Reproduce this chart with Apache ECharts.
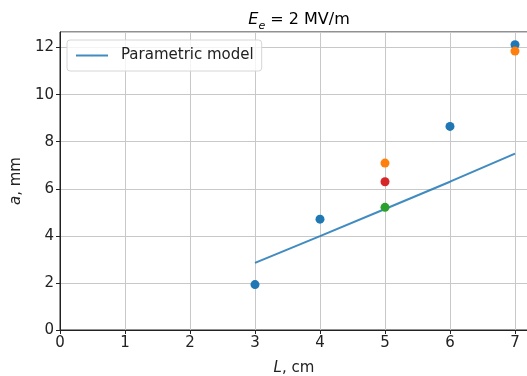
<!DOCTYPE html>
<html>
<head>
<meta charset="utf-8">
<script src="https://cdn.jsdelivr.net/npm/echarts@6/dist/echarts.min.js"></script>
<style>
  html, body { margin: 0; padding: 0; background: #fff; }
  #chart { width: 527px; height: 376px; }
</style>
</head>
<body>
<div id="chart"></div>
<script>
// model curve
const modelL = [3, 4, 5, 6, 7];
const modelA = [2.85, 3.99, 5.14, 6.30, 7.49];

// measured points, one array per colour
const blueL = [3, 4, 6, 7];
const blueA = [1.93, 4.71, 8.65, 12.12];
const orangeL = [5, 7];
const orangeA = [7.09, 11.85];
const redL = [5];
const redA = [6.30];
const greenL = [5];
const greenA = [5.21];

const zip = (xs, ys) => xs.map((x, i) => [x, ys[i]]);

const font = 'DejaVu Sans';
let chart = echarts.init(document.getElementById('chart'));

function dots(name, xs, ys, color) {
    return {
        name: name,
        type: 'scatter',
        data: zip(xs, ys),
        symbolSize: 9,
        itemStyle: {color: color, opacity: 1},
        z: 3
    };
}

let option = {
    animation: false,
    textStyle: {fontFamily: font},
    title: {
        text: '{i|E}{s|e}{n| = 2 MV/m}',
        left: 294,
        textAlign: 'center',
        top: 3,
        textStyle: {
            fontWeight: 'normal',
            rich: {
                i: {fontFamily: font, fontSize: 16, fontStyle: 'italic', fontWeight: 'normal', color: '#000', verticalAlign: 'bottom', lineHeight: 20},
                s: {fontFamily: font, fontSize: 11, fontStyle: 'italic', fontWeight: 'normal', color: '#000', verticalAlign: 'bottom', lineHeight: 14, padding: [0, 0, -4, 0]},
                n: {fontFamily: font, fontSize: 16, fontWeight: 'normal', color: '#000', verticalAlign: 'bottom', lineHeight: 20}
            }
        }
    },
    legend: {
        data: ['Parametric model'],
        left: 67,
        top: 40,
        orient: 'vertical',
        padding: [8, 8, 8, 8],
        itemWidth: 32,
        itemHeight: 2,
        itemGap: 0,
        backgroundColor: 'rgba(255,255,255,0.8)',
        borderColor: '#d6d6d6',
        borderWidth: 1,
        borderRadius: 3,
        textStyle: {fontFamily: font, fontSize: 15, color: '#222', padding: [0, 0, 0, 8]}
    },
    grid: {
        left: 60,
        right: -1,
        top: 32,
        bottom: 46,
        outerBoundsMode: 'none',
        show: true,
        borderColor: '#222',
        borderWidth: 1
    },
    xAxis: {
        type: 'value',
        min: 0,
        max: 7.2,
        interval: 1,
        name: '{i|L}{n|, cm}',
        nameLocation: 'middle',
        nameGap: 31,
        nameTextStyle: {
            rich: {
                i: {fontFamily: font, fontSize: 15, fontStyle: 'italic', color: '#222'},
                n: {fontFamily: font, fontSize: 15, color: '#222'}
            }
        },
        axisLine: {lineStyle: {color: '#222'}},
        axisTick: {show: true, length: 4, lineStyle: {color: '#222'}},
        axisLabel: {showMaxLabel: false, fontSize: 15, color: '#222', margin: 6},
        splitLine: {show: true, lineStyle: {color: '#c8c8c8', width: 1}}
    },
    yAxis: {
        type: 'value',
        min: 0,
        max: 12.66,
        interval: 2,
        name: '{i|a}{n|, mm}',
        nameLocation: 'middle',
        nameGap: 35,
        nameTextStyle: {
            rich: {
                i: {fontFamily: font, fontSize: 15, fontStyle: 'italic', color: '#222'},
                n: {fontFamily: font, fontSize: 15, color: '#222'}
            }
        },
        axisLine: {show: true, lineStyle: {color: '#222'}},
        axisTick: {show: true, length: 4, lineStyle: {color: '#222'}},
        axisLabel: {showMaxLabel: false, fontSize: 15, color: '#222', margin: 6},
        splitLine: {show: true, lineStyle: {color: '#c8c8c8', width: 1}}
    },
    series: [
        {
            name: 'Parametric model',
            type: 'line',
            data: zip(modelL, modelA),
            showSymbol: false,
            symbol: 'none',
            lineStyle: {color: '#1f77b4', width: 2, opacity: 0.85},
            itemStyle: {color: '#4a90c6'},
            z: 2
        },
        dots('blue', blueL, blueA, '#1f77b4'),
        dots('orange', orangeL, orangeA, '#ff7f0e'),
        dots('red', redL, redA, '#d62728'),
        dots('green', greenL, greenA, '#2ca02c')
    ]
};

chart.setOption(option);
</script>
</body>
</html>
